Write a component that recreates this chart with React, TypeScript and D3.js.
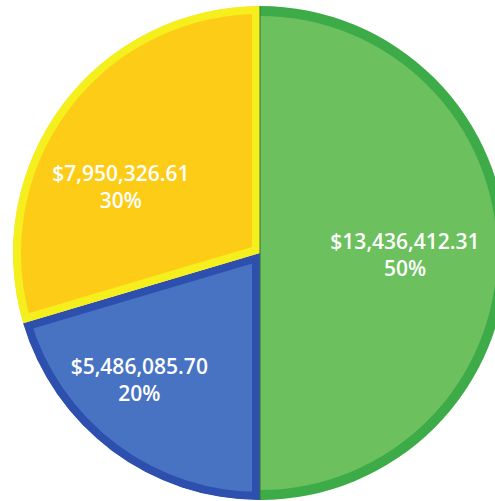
import React from "react";
import * as d3 from "d3";

const categories = ["Green", "Blue", "Yellow"];
const values = [13436412.31, 5486085.7, 7950326.61];
const percentLabels = ["50%", "20%", "30%"];
const fills = ["#6cc05e", "#4873c3", "#fccc16"];
const borders = ["#3dac48", "#2d4fae", "#f6ef1e"];
const borderModes = ["outer", "all", "all"];
const borderWidths = [10, 8, 8];
const labelOffsets: [number, number][] = [
  [-5, 2],
  [-31, 7],
  [-19, 24],
];

const W = 495;
const H = 501;
const cx = 260;
const cy = 253;
const R = 247;

export default function App() {
  const pie = d3
    .pie<number>()
    .sort(null)
    .value((d) => d);
  const arcs = pie(values);
  const arc = d3.arc<d3.PieArcDatum<number>>().innerRadius(0).outerRadius(R);
  const labelArc = d3
    .arc<d3.PieArcDatum<number>>()
    .innerRadius(150)
    .outerRadius(150);
  const fmt = d3.format("$,.2f");

  return (
    <svg
      width={W}
      height={H}
      style={{ position: "absolute", left: 0, top: 0, display: "block", background: "#fff" }}
    >
      <defs>
        {arcs.map((a, i) => (
          <clipPath id={`clip-${i}`} key={i}>
            <path d={arc(a) || ""} />
          </clipPath>
        ))}
      </defs>
      <g transform={`translate(${cx},${cy})`}>
        {arcs.map((a, i) => {
          const d = arc(a) || "";
          if (borderModes[i] === "outer") {
            const inner = d3
              .arc<d3.PieArcDatum<number>>()
              .innerRadius(0)
              .outerRadius(R - borderWidths[i]);
            return (
              <g key={i}>
                <path d={d} fill={borders[i]} />
                <path d={inner(a) || ""} fill={fills[i]} />
              </g>
            );
          }
          return (
            <path
              key={i}
              d={d}
              fill={fills[i]}
              stroke={borders[i]}
              strokeWidth={borderWidths[i] * 2}
              clipPath={`url(#clip-${i})`}
            />
          );
        })}
        <line x1={0} y1={-R} x2={0} y2={R} stroke="#3b6e3a" strokeWidth={1} />
        {arcs.map((a, i) => {
          const [lx, ly] = labelArc.centroid(a);
          const x = lx + labelOffsets[i][0];
          const y = ly + labelOffsets[i][1];
          return (
            <text
              key={`t${i}`}
              x={x}
              y={y}
              textAnchor="middle"
              fill="#ffffff"
              fontFamily="'Open Sans', 'Noto Sans', sans-serif"
              fontWeight={600}
              fontSize={21}
            >
              <tspan x={x} y={y - 6}>
                {fmt(values[i])}
              </tspan>
              <tspan x={x} y={y + 21}>
                {percentLabels[i]}
              </tspan>
            </text>
          );
        })}
      </g>
    </svg>
  );
}
